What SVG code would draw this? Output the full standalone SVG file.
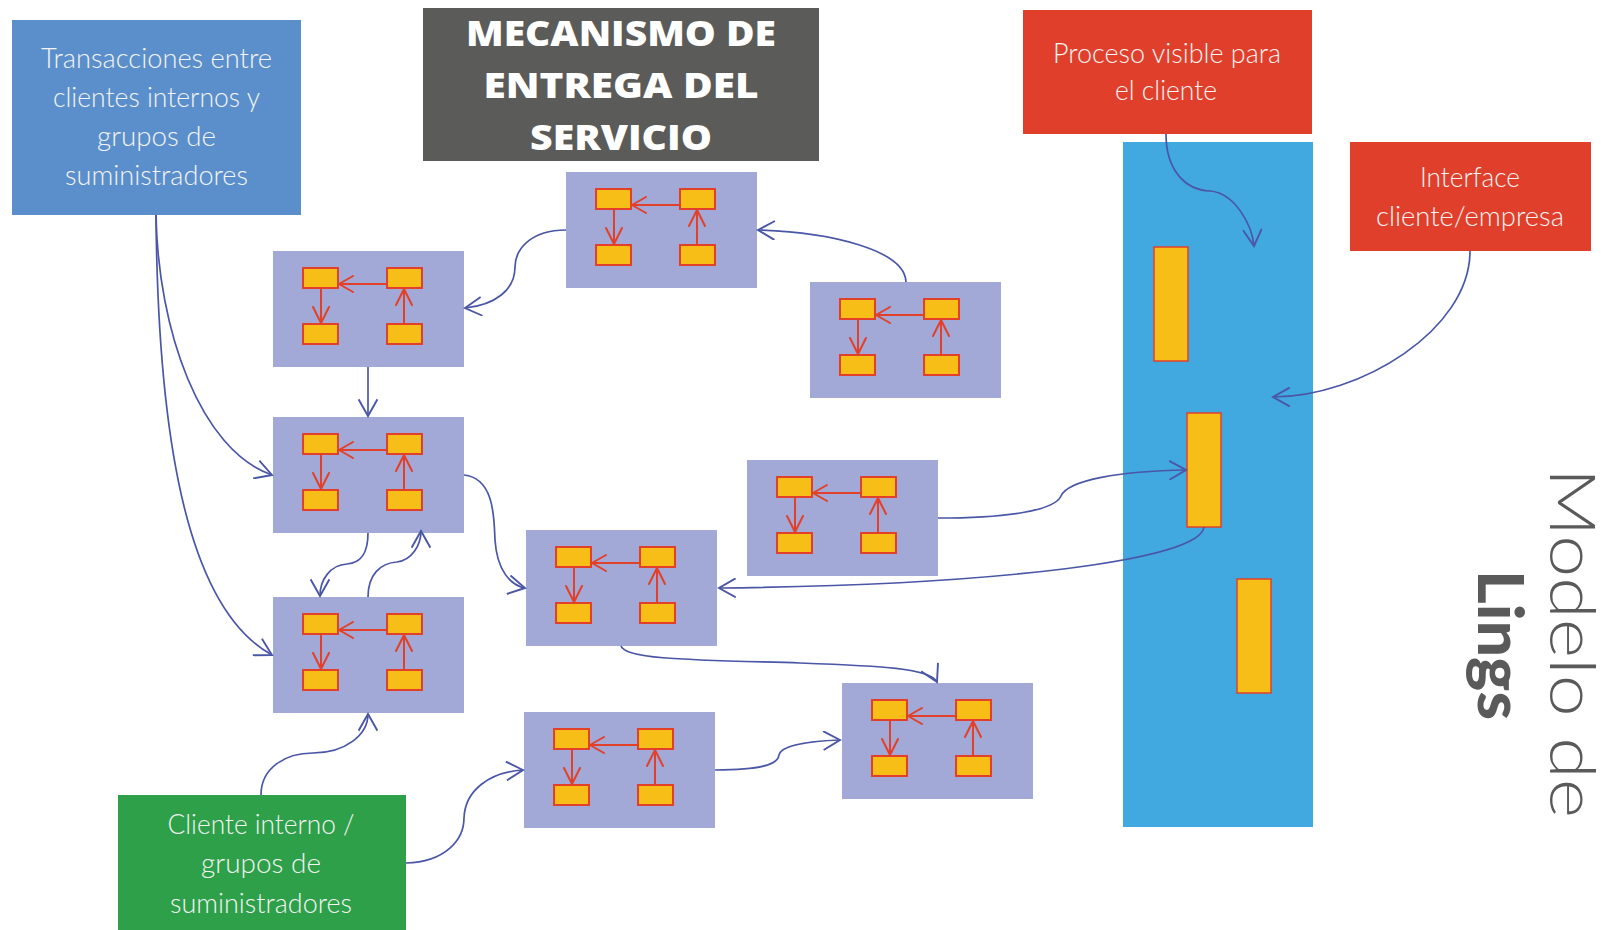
<svg xmlns="http://www.w3.org/2000/svg" xmlns:xlink="http://www.w3.org/1999/xlink" width="1614" height="930" viewBox="0 0 1614 930">
<style>
.box-text{font-family:"Lato","Open Sans","Liberation Sans",sans-serif;font-weight:300;font-size:28px;fill:#F4F4F4;text-anchor:middle}
.title{font-family:"Open Sans","Lato","Liberation Sans",sans-serif;font-weight:800;font-size:36px;fill:#FFFFFF;text-anchor:middle}
.block{fill:#A2A9D6}
.mini-rect{fill:#F6BE17;stroke:#E2402A;stroke-width:2}
.mini-line{fill:none;stroke:#E2402A;stroke-width:2;stroke-linecap:round;stroke-linejoin:round}
.conn{fill:none;stroke:#4A56A6;stroke-width:1.7;marker-end:url(#arrow)}
.side{font-family:"Lato","Open Sans","Liberation Sans",sans-serif;font-size:63px;fill:#5A5A5A;text-anchor:middle}
</style>
<defs>
<marker id="arrow" markerUnits="userSpaceOnUse" markerWidth="20" markerHeight="20" viewBox="0 0 16 18" refX="15" refY="9" orient="auto">
<path d="M0,0.5 L15,9 L0,17.5" fill="none" stroke="#4A56A6" stroke-width="1.7"/>
</marker>
<g id="mini">
<rect class="block" x="0" y="0" width="191" height="116"/>
<rect class="mini-rect" x="30" y="17" width="35" height="20"/>
<rect class="mini-rect" x="114" y="17" width="35" height="20"/>
<rect class="mini-rect" x="30" y="73" width="35" height="20"/>
<rect class="mini-rect" x="114" y="73" width="35" height="20"/>
<path class="mini-line" d="M114,33 L66,33 M80,25 L66,33 L80,41"/>
<path class="mini-line" d="M48,37 L48,72 M40,56 L48,72 L56,56"/>
<path class="mini-line" d="M131,73 L131,38 M123,54 L131,38 L139,54"/>
</g>
</defs>
<rect x="0" y="0" width="1614" height="930" fill="#FFFFFF"/>

<g id="column">
<rect x="1123" y="142" width="190" height="685" fill="#42A8E0"/>
<rect x="1154" y="247" width="34" height="114" fill="#F6BE17" stroke="#E2402A" stroke-width="1.5"/>
<rect x="1187" y="413" width="34" height="114" fill="#F6BE17" stroke="#E2402A" stroke-width="1.5"/>
<rect x="1237" y="579" width="34" height="114" fill="#F6BE17" stroke="#E2402A" stroke-width="1.5"/>
</g>

<g id="transacciones">
<rect x="12" y="20" width="289" height="195" fill="#5B8FCB"/>
<text class="box-text" x="156.5" y="68" textLength="231" lengthAdjust="spacingAndGlyphs">Transacciones entre</text>
<text class="box-text" x="156.5" y="107" textLength="207" lengthAdjust="spacingAndGlyphs">clientes internos y</text>
<text class="box-text" x="156.5" y="146" textLength="119" lengthAdjust="spacingAndGlyphs">grupos de</text>
<text class="box-text" x="156.5" y="185" textLength="183" lengthAdjust="spacingAndGlyphs">suministradores</text>
</g>

<g id="titulo">
<rect x="423" y="8" width="396" height="153" fill="#5B5B59"/>
<text class="title" x="621" y="46" textLength="310" lengthAdjust="spacingAndGlyphs">MECANISMO DE</text>
<text class="title" x="621" y="98" textLength="275" lengthAdjust="spacingAndGlyphs">ENTREGA DEL</text>
<text class="title" x="621" y="150" textLength="182" lengthAdjust="spacingAndGlyphs">SERVICIO</text>
</g>

<g id="proceso-visible">
<rect x="1023" y="10" width="289" height="124" fill="#E0402B"/>
<text class="box-text" x="1167" y="63" textLength="228" lengthAdjust="spacingAndGlyphs">Proceso visible para</text>
<text class="box-text" x="1166" y="100" textLength="102" lengthAdjust="spacingAndGlyphs">el cliente</text>
</g>

<g id="interface">
<rect x="1350" y="142" width="241" height="109" fill="#E0402B"/>
<text class="box-text" x="1470" y="187" textLength="100" lengthAdjust="spacingAndGlyphs">Interface</text>
<text class="box-text" x="1470" y="226" textLength="188" lengthAdjust="spacingAndGlyphs">cliente/empresa</text>
</g>

<g id="cliente-interno">
<rect x="118" y="795" width="288" height="140" fill="#2EA04A"/>
<text class="box-text" x="261" y="834" textLength="187" lengthAdjust="spacingAndGlyphs">Cliente interno /</text>
<text class="box-text" x="261" y="873" textLength="120" lengthAdjust="spacingAndGlyphs">grupos de</text>
<text class="box-text" x="261" y="913" textLength="182" lengthAdjust="spacingAndGlyphs">suministradores</text>
</g>

<g id="bloque-1"><use xlink:href="#mini" href="#mini" x="566" y="172"/></g>
<g id="bloque-2"><use xlink:href="#mini" href="#mini" x="273" y="251"/></g>
<g id="bloque-3"><use xlink:href="#mini" href="#mini" x="810" y="282"/></g>
<g id="bloque-4"><use xlink:href="#mini" href="#mini" x="273" y="417"/></g>
<g id="bloque-5"><use xlink:href="#mini" href="#mini" x="747" y="460"/></g>
<g id="bloque-6"><use xlink:href="#mini" href="#mini" x="526" y="530"/></g>
<g id="bloque-7"><use xlink:href="#mini" href="#mini" x="273" y="597"/></g>
<g id="bloque-8"><use xlink:href="#mini" href="#mini" x="524" y="712"/></g>
<g id="bloque-9"><use xlink:href="#mini" href="#mini" x="842" y="683"/></g>

<g id="connectors">
<path class="conn" d="M156,215 C 158,330 200,450 272,475"/>
<path class="conn" d="M156,215 C 158,450 190,610 272,655"/>
<path class="conn" d="M566,230 C 530,230 515,250 515,267 C 515,290 495,305 465,308"/>
<path class="conn" d="M906,282 C 905,250 830,232 758,230"/>
<path class="conn" d="M368,367 L368,416"/>
<path class="conn" d="M368,533 C 368,555 360,563 347,564 C 330,565 320,580 320,596"/>
<path class="conn" d="M368,597 C 368,575 380,563 397,562 C 412,560 421,545 421,531"/>
<path class="conn" d="M464,475 C 495,478 494,520 495,540 C 497,570 510,585 525,588"/>
<path class="conn" d="M938,518 C 1010,518 1055,510 1061,496 C 1068,480 1120,471 1186,470"/>
<path class="conn" d="M1204,527 C 1200,560 1000,585 719,588"/>
<path class="conn" d="M621,646 C 625,660 700,660 800,663 C 880,666 930,668 937,682"/>
<path class="conn" d="M261,795 C 261,768 285,753 313,753 C 345,753 368,735 368,714"/>
<path class="conn" d="M406,863 C 445,862 464,840 464,818 C 465,790 490,772 523,770"/>
<path class="conn" d="M715,770 C 760,770 778,765 779,755 C 781,745 810,741 840,740"/>
<path class="conn" d="M1166,134 C 1166,170 1185,190 1210,191 C 1235,193 1252,225 1254,246"/>
<path class="conn" d="M1470,251 C 1470,330 1360,397 1273,397"/>
</g>

<g id="modelo">
<text class="side" transform="translate(1550,643) rotate(90)" font-size="58" font-weight="300" textLength="350" lengthAdjust="spacingAndGlyphs">Modelo de</text>
<text class="side" transform="translate(1478,645) rotate(90)" font-weight="900" textLength="150" lengthAdjust="spacingAndGlyphs">Lings</text>
</g>
</svg>
